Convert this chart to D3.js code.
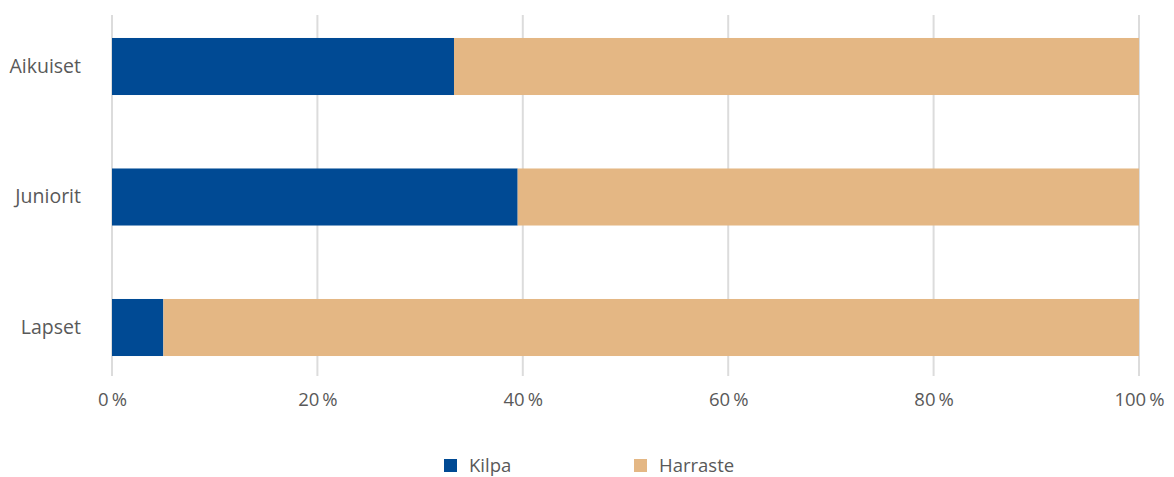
<!DOCTYPE html>
<html>
<head>
<meta charset="utf-8">
<script src="https://cdn.jsdelivr.net/npm/d3@7"></script>
<style>
  body { margin: 0; background: #fff; }
  svg text { font-family: "Open Sans", sans-serif; fill: #595959; }
</style>
</head>
<body>
<div id="chart"></div>
<script>
const categories = ['Aikuiset', 'Juniorit', 'Lapset'];
const seriesNames = ['Kilpa', 'Harraste'];
const kilpa = [33.3, 39.5, 5.0];
const harraste = [66.7, 60.5, 95.0];
const tickValues = [0, 20, 40, 60, 80, 100];
const colors = ['#004a94', '#e4b784'];

const width = 1174;
const height = 477;

const svg = d3.select('#chart')
  .append('svg')
  .attr('width', width)
  .attr('height', height);

const x = d3.scaleLinear().domain([0, 100]).range([112, 1139]);
const y = d3.scaleBand()
  .domain(categories)
  .range([1.25, 392.75])
  .paddingInner(0.563)
  .paddingOuter(0.2815);

// gridlines
svg.append('g')
  .selectAll('line')
  .data(tickValues)
  .enter()
  .append('line')
  .attr('x1', d => x(d))
  .attr('x2', d => x(d))
  .attr('y1', 15)
  .attr('y2', 376)
  .attr('stroke', '#dcdcdc')
  .attr('stroke-width', 2);

// stacked bars
const rows = categories.map((c, i) => ({ cat: c, Kilpa: kilpa[i], Harraste: harraste[i] }));
const stack = d3.stack().keys(seriesNames)(rows);

svg.append('g')
  .selectAll('g')
  .data(stack)
  .enter()
  .append('g')
  .attr('fill', (d, i) => colors[i])
  .selectAll('rect')
  .data(d => d)
  .enter()
  .append('rect')
  .attr('x', d => x(d[0]))
  .attr('width', d => x(d[1]) - x(d[0]))
  .attr('y', d => y(d.data.cat))
  .attr('height', y.bandwidth());

// x axis labels
svg.append('g')
  .attr('transform', 'translate(0, 406)')
  .call(d3.axisBottom(x).tickValues(tickValues).tickSize(0).tickFormat(d => d + '\u2009%'))
  .call(g => g.select('.domain').remove())
  .selectAll('text')
  .attr('y', 0)
  .attr('dy', 0)
  .style('font-size', '18.5px');

// y axis labels
svg.append('g')
  .attr('transform', 'translate(81, 0)')
  .call(d3.axisLeft(y).tickSize(0))
  .call(g => g.select('.domain').remove())
  .selectAll('text')
  .attr('x', 0)
  .style('font-size', '19.5px');

// legend
const legendX = [444, 634];
const legend = svg.append('g')
  .selectAll('g')
  .data(seriesNames)
  .enter()
  .append('g')
  .attr('transform', (d, i) => `translate(${legendX[i]}, 459)`);

legend.append('rect')
  .attr('width', 13)
  .attr('height', 13)
  .attr('fill', (d, i) => colors[i]);

legend.append('text')
  .attr('x', 25)
  .attr('y', 13)
  .style('font-size', '18.5px')
  .text(d => d);
</script>
</body>
</html>
